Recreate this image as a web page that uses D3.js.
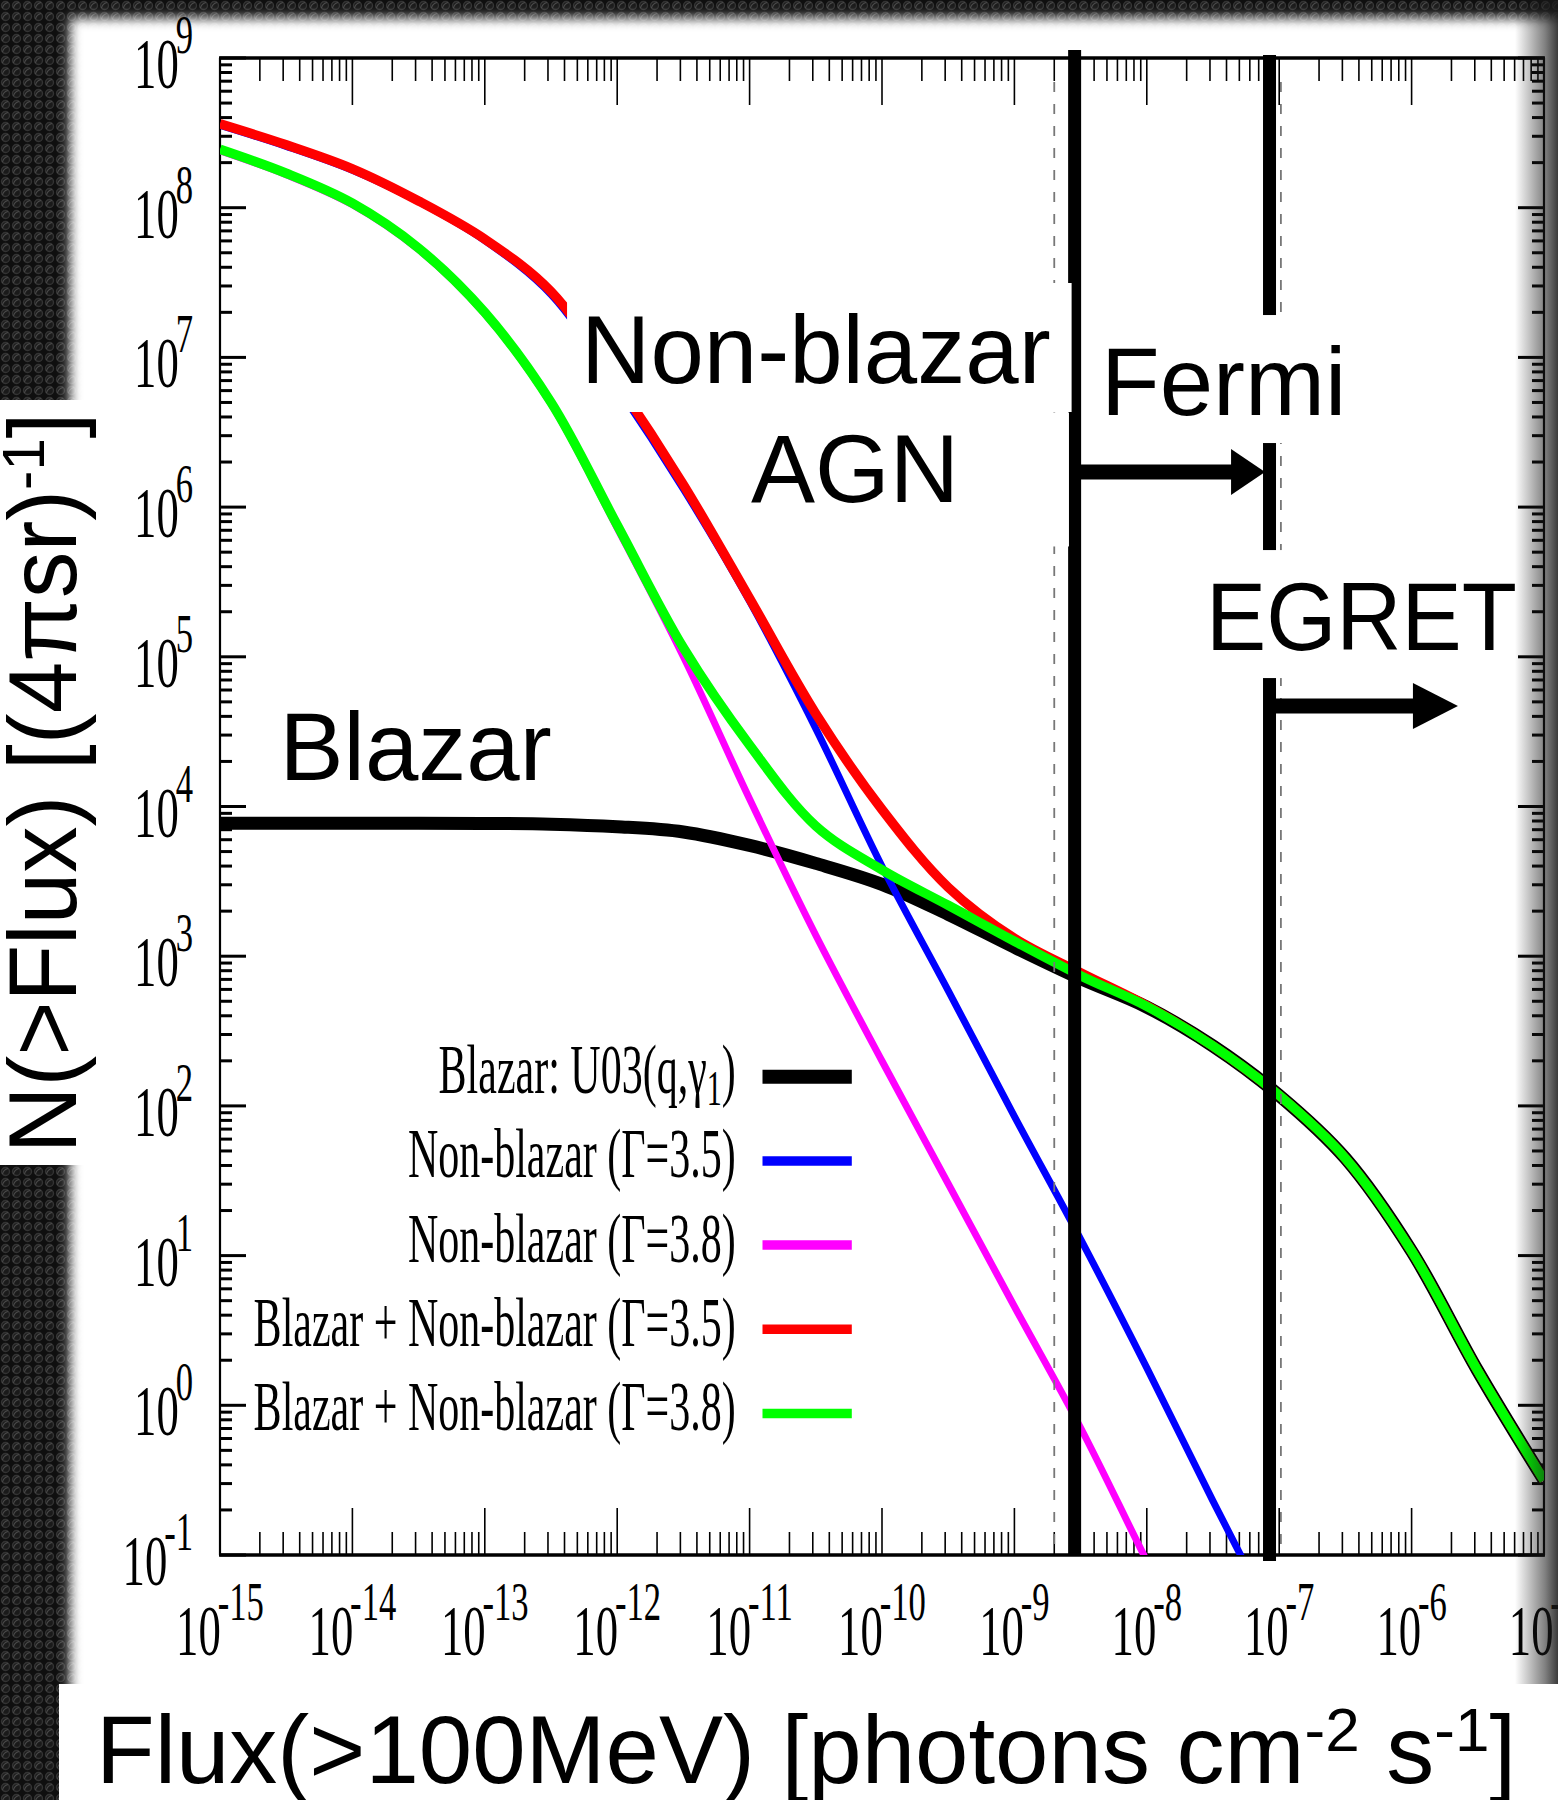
<!DOCTYPE html>
<html>
<head>
<meta charset="utf-8">
<script src="https://cdn.jsdelivr.net/npm/d3@7"></script>
<style>
  html, body { margin: 0; padding: 0; background: #111; }
  svg { display: block; }
</style>
</head>
<body>
<svg id="chart"></svg>
<script>
// values are log10
const fluxExp = [-15, -14.5, -14, -13.5, -13, -12.5, -12, -11.5, -11, -10.5, -10, -9.5, -9, -8.5, -8, -7.5, -7, -6.5, -6, -5.5, -5];
const blazarLogN      = [3.888, 3.888, 3.888, 3.888, 3.887, 3.882, 3.865, 3.83, 3.74, 3.62, 3.48, 3.28, 3.06, 2.85, 2.66, 2.40, 2.07, 1.65, 1.03, 0.23, -0.50];
const nonBlazar35LogN = [8.55, 8.41, 8.25, 8.04, 7.78, 7.42, 6.80, 6.12, 5.37, 4.52, 3.60, 2.77, 1.93, 1.11, 0.25, -0.64, -1.50, null, null, null, null];
const nonBlazar38LogN = [8.38, 8.22, 8.02, 7.72, 7.29, 6.69, 5.86, 5.00, 4.05, 3.14, 2.30, 1.48, 0.66, -0.15, -1.04, -1.90, null, null, null, null, null];
const total35LogN     = [8.56, 8.42, 8.26, 8.045, 7.79, 7.44, 6.83, 6.15, 5.39, 4.62, 3.98, 3.46, 3.12, 2.89, 2.67, 2.40, 2.07, 1.65, 1.03, 0.23, -0.50];
const total38LogN     = [8.39, 8.23, 8.03, 7.73, 7.30, 6.70, 5.88, 5.06, 4.41, 3.87, 3.577, 3.34, 3.10, 2.87, 2.665, 2.40, 2.07, 1.65, 1.03, 0.23, -0.50];

const xTickExp = ["-15", "-14", "-13", "-12", "-11", "-10", "-9", "-8", "-7", "-6", "-5"];
const yTickExp = ["-1", "0", "1", "2", "3", "4", "5", "6", "7", "8", "9"];

const seriesNames = ["Blazar: U03(q,γ", "Non-blazar (Γ=3.5)", "Non-blazar (Γ=3.8)", "Blazar + Non-blazar (Γ=3.5)", "Blazar + Non-blazar (Γ=3.8)"];
const seriesColors = ["#000000", "#0000ff", "#ff00ff", "#ff0000", "#00ff00"];

// sensitivity limits (flux) and arrows
const limitFlux = [2.85e-9, 8.45e-8];       // Fermi, EGRET thick lines
const refFlux = [2.0e-9, 1.03e-7];          // thin dashed lines
const arrowLogN = [6.234, 4.671];
const arrowEndExp = [-7.107, -5.65];

const labelText = ["Blazar", "Non-blazar", "AGN", "Fermi", "EGRET"];
const labelExp = [[-14.55, 4.177], [-12.273, 6.829], [-10.99, 6.031], [-8.346, 6.615], [-7.553, 5.045]];
const labelSqueeze = [1, 1, 1, 1, 0.94];

const W = 1558, H = 1800;
const svg = d3.select("#chart").attr("width", W).attr("height", H);
const defs = svg.append("defs");

// dark carbon texture behind the slide
const tex = defs.append("pattern").attr("id", "carbon")
  .attr("patternUnits", "userSpaceOnUse").attr("width", 11).attr("height", 11);
tex.append("rect").attr("width", 11).attr("height", 11).attr("fill", "#0f0f0f");
tex.append("circle").attr("cx", 5.5).attr("cy", 5.5).attr("r", 4)
  .attr("fill", "#1a1a1a").attr("stroke", "#333").attr("stroke-width", 1.3);
tex.append("path").attr("d", "M2.5,8 Q3.5,3.5 8,2.5").attr("fill", "none")
  .attr("stroke", "#4a4a4a").attr("stroke-width", 1.1);

defs.append("filter").attr("id", "soft")
  .attr("x", "-5%").attr("y", "-5%").attr("width", "110%").attr("height", "110%")
  .append("feGaussianBlur").attr("stdDeviation", 6);

const rg = defs.append("linearGradient").attr("id", "rightShade")
  .attr("x1", 0).attr("x2", 1).attr("y1", 0).attr("y2", 0);
rg.append("stop").attr("offset", 0).attr("stop-color", "#181818").attr("stop-opacity", 0);
rg.append("stop").attr("offset", 0.7).attr("stop-color", "#181818").attr("stop-opacity", 0.55);
rg.append("stop").attr("offset", 1).attr("stop-color", "#181818").attr("stop-opacity", 0.85);

svg.append("rect").attr("width", W).attr("height", H).attr("fill", "url(#carbon)");
svg.append("rect").attr("x", 70).attr("y", 18).attr("width", W).attr("height", 1700)
  .attr("fill", "#fff").attr("filter", "url(#soft)");

// plot geometry
const plot = {left: 220, right: 1544, top: 58, bottom: 1555};
const x = d3.scaleLog().domain([1e-15, 1e-5]).range([plot.left, plot.right]);
const y = d3.scaleLog().domain([0.1, 1e9]).range([plot.bottom, plot.top]);

defs.append("clipPath").attr("id", "plotClip").append("rect")
  .attr("x", plot.left).attr("y", plot.top)
  .attr("width", plot.right - plot.left).attr("height", plot.bottom - plot.top);

const axes = svg.append("g");

// ticks
const xMajor = xTickExp.map(e => Math.pow(10, +e));
const yMajor = yTickExp.map(e => Math.pow(10, +e));
const xMinor = [], yMinor = [];
xMajor.slice(0, -1).forEach(v => { for (let m = 2; m <= 9; m++) xMinor.push(v * m); });
yMajor.slice(0, -1).forEach(v => { for (let m = 2; m <= 9; m++) yMinor.push(v * m); });

function vTicks(vals, len) {
  vals.forEach(v => {
    const px = x(v);
    axes.append("line").attr("x1", px).attr("x2", px)
      .attr("y1", plot.bottom).attr("y2", plot.bottom - len)
      .attr("stroke", "#000").attr("stroke-width", 1.6);
    axes.append("line").attr("x1", px).attr("x2", px)
      .attr("y1", plot.top).attr("y2", plot.top + len)
      .attr("stroke", "#000").attr("stroke-width", 1.6);
  });
}
function hTicks(vals, len) {
  vals.forEach(v => {
    const py = y(v);
    axes.append("line").attr("x1", plot.left).attr("x2", plot.left + len)
      .attr("y1", py).attr("y2", py)
      .attr("stroke", "#000").attr("stroke-width", 3);
    axes.append("line").attr("x1", plot.right).attr("x2", plot.right - len)
      .attr("y1", py).attr("y2", py)
      .attr("stroke", "#000").attr("stroke-width", 3);
  });
}
vTicks(xMajor, 47);
vTicks(xMinor, 23);
hTicks(yMajor, 26);
hTicks(yMinor, 12);

axes.append("line").attr("x1", plot.left - 1).attr("x2", plot.right + 1)
  .attr("y1", plot.top).attr("y2", plot.top).attr("stroke", "#000").attr("stroke-width", 3.5);
axes.append("line").attr("x1", plot.left - 1).attr("x2", plot.right + 1)
  .attr("y1", plot.bottom).attr("y2", plot.bottom).attr("stroke", "#000").attr("stroke-width", 3.5);
axes.append("line").attr("x1", plot.left).attr("x2", plot.left)
  .attr("y1", plot.top).attr("y2", plot.bottom).attr("stroke", "#000").attr("stroke-width", 2.2);
axes.append("line").attr("x1", plot.right).attr("x2", plot.right)
  .attr("y1", plot.top).attr("y2", plot.bottom).attr("stroke", "#000").attr("stroke-width", 2.2);

// tick labels: condensed Times style "10^n"
const serif = "'Liberation Serif', 'Times New Roman', serif";
function powerLabel(g, exp) {
  const t = g.append("text").attr("font-family", serif).attr("fill", "#000");
  t.append("tspan").attr("font-size", 71).text("10");
  t.append("tspan").attr("font-size", 55).attr("dx", -5).attr("dy", -35).text(exp);
  return t;
}
xTickExp.forEach((e, i) => {
  const g = axes.append("g").attr("transform", `translate(${x(xMajor[i])},${plot.bottom + 100}) scale(0.63,1)`);
  powerLabel(g, e).attr("text-anchor", "middle");
});
yTickExp.forEach((e, i) => {
  const g = axes.append("g").attr("transform", `translate(${plot.left - 27},${y(yMajor[i]) + 30}) scale(0.63,1)`);
  powerLabel(g, e).attr("text-anchor", "end");
});

// curves
const curves = svg.append("g").attr("clip-path", "url(#plotClip)");
const line = d3.line()
  .defined(d => d[1] != null)
  .x(d => x(Math.pow(10, d[0])))
  .y(d => y(Math.pow(10, d[1])))
  .curve(d3.curveCatmullRom.alpha(0.5));

const seriesData = [blazarLogN, nonBlazar35LogN, nonBlazar38LogN, total35LogN, total38LogN];
const seriesWidth = [13, 7, 7, 9.5, 9.5];
seriesData.forEach((vals, i) => {
  curves.append("path")
    .attr("d", line(fluxExp.map((f, j) => [f, vals[j]])))
    .attr("fill", "none")
    .attr("stroke", seriesColors[i])
    .attr("stroke-width", seriesWidth[i]);
});

// thin dashed reference lines
refFlux.forEach(f => {
  svg.append("line").attr("x1", x(f)).attr("x2", x(f))
    .attr("y1", plot.top + 24).attr("y2", plot.bottom)
    .attr("stroke", "#777").attr("stroke-width", 1.8)
    .attr("stroke-dasharray", "10,12");
});

// Fermi / EGRET thresholds
const marks = svg.append("g");
marks.append("line").attr("x1", x(limitFlux[0])).attr("x2", x(limitFlux[0]))
  .attr("y1", plot.top - 8).attr("y2", plot.bottom)
  .attr("stroke", "#000").attr("stroke-width", 13);
marks.append("line").attr("x1", x(limitFlux[1])).attr("x2", x(limitFlux[1]))
  .attr("y1", plot.top - 3).attr("y2", plot.bottom + 6)
  .attr("stroke", "#000").attr("stroke-width", 13);

function arrow(fromFlux, toExp, logN, headLen) {
  const ay = y(Math.pow(10, logN));
  const x0 = x(fromFlux);
  const x1 = x(Math.pow(10, toExp));
  marks.append("line").attr("x1", x0).attr("x2", x1 - headLen + 2)
    .attr("y1", ay).attr("y2", ay)
    .attr("stroke", "#000").attr("stroke-width", 15);
  marks.append("path")
    .attr("d", `M${x1 - headLen},${ay - 23}L${x1},${ay}L${x1 - headLen},${ay + 23}Z`)
    .attr("fill", "#000");
}
arrow(limitFlux[0], arrowEndExp[0], arrowLogN[0], 34);
arrow(limitFlux[1], arrowEndExp[1], arrowLogN[1], 45);

// annotation text boxes (white background, as pasted on the slide)
const sans = "'Liberation Sans', Arial, Helvetica, sans-serif";
const boxPad = [[8, 8, 8, 8], [14, 13, 21, 9], [16, 3, 110, 24], [18, 13, 4, 8], [11, 13, -7, 8]];
const notes = svg.append("g");
labelText.forEach((t, i) => {
  const g = notes.append("g");
  const box = g.append("rect").attr("fill", "#fff");
  const txt = g.append("text")
    .attr("x", x(Math.pow(10, labelExp[i][0])))
    .attr("y", y(Math.pow(10, labelExp[i][1])))
    .attr("font-family", sans).attr("font-size", 96).attr("fill", "#000")
    .text(t);
  if (labelSqueeze[i] !== 1) {
    const len = txt.node().getComputedTextLength();
    txt.attr("textLength", len * labelSqueeze[i]).attr("lengthAdjust", "spacingAndGlyphs");
  }
  const bb = txt.node().getBBox();
  const p = boxPad[i];
  box.attr("x", bb.x - p[0]).attr("y", bb.y - p[1])
    .attr("width", bb.width + p[0] + p[2]).attr("height", bb.height + p[1] + p[3]);
});

// legend
const legend = svg.append("g");
const legendTop = 1076.7, legendStep = 84.2;
seriesNames.forEach((name, i) => {
  const ly = legendTop + i * legendStep;
  legend.append("line").attr("x1", 762.5).attr("x2", 851.8)
    .attr("y1", ly).attr("y2", ly)
    .attr("stroke", seriesColors[i]).attr("stroke-width", i === 0 ? 14 : 9.5);
  const g = legend.append("g").attr("transform", `translate(735.7,${ly + 16.5}) scale(0.6,1)`);
  const t = g.append("text").attr("text-anchor", "end")
    .attr("font-family", serif).attr("font-size", 70).attr("fill", "#000");
  t.append("tspan").text(name);
  if (i === 0) {
    t.append("tspan").attr("font-size", 50).attr("dy", 12).text("1");
    t.append("tspan").attr("dy", -12).text(")");
  }
});

// right edge shading of the slide
svg.append("rect").attr("x", 1515).attr("y", 0).attr("width", 43).attr("height", 1684)
  .attr("fill", "url(#rightShade)");

// axis titles on their own white boxes
svg.append("rect").attr("x", 0).attr("y", 400).attr("width", 100).attr("height", 765).attr("fill", "#fff");
svg.append("rect").attr("x", 59).attr("y", 1684).attr("width", W - 59).attr("height", H - 1684).attr("fill", "#fff");

const yTitle = svg.append("text")
  .attr("transform", "translate(76,783) rotate(-90) scale(0.965,1)")
  .attr("text-anchor", "middle")
  .attr("font-family", sans).attr("font-size", 96).attr("fill", "#000");
yTitle.append("tspan").text("N(>Flux) [(4πsr)");
yTitle.append("tspan").attr("font-size", 60).attr("dy", -32).text("-1");
yTitle.append("tspan").attr("dy", 32).text("]");

const xTitle = svg.append("text")
  .attr("x", 96).attr("y", 1783)
  .attr("font-family", sans).attr("font-size", 96).attr("fill", "#000");
xTitle.append("tspan").text("Flux(>100MeV) [photons cm");
xTitle.append("tspan").attr("font-size", 62).attr("dy", -32).text("-2");
xTitle.append("tspan").attr("dy", 32).text(" s");
xTitle.append("tspan").attr("font-size", 62).attr("dy", -32).text("-1");
xTitle.append("tspan").attr("dy", 32).text("]");
</script>
</body>
</html>
